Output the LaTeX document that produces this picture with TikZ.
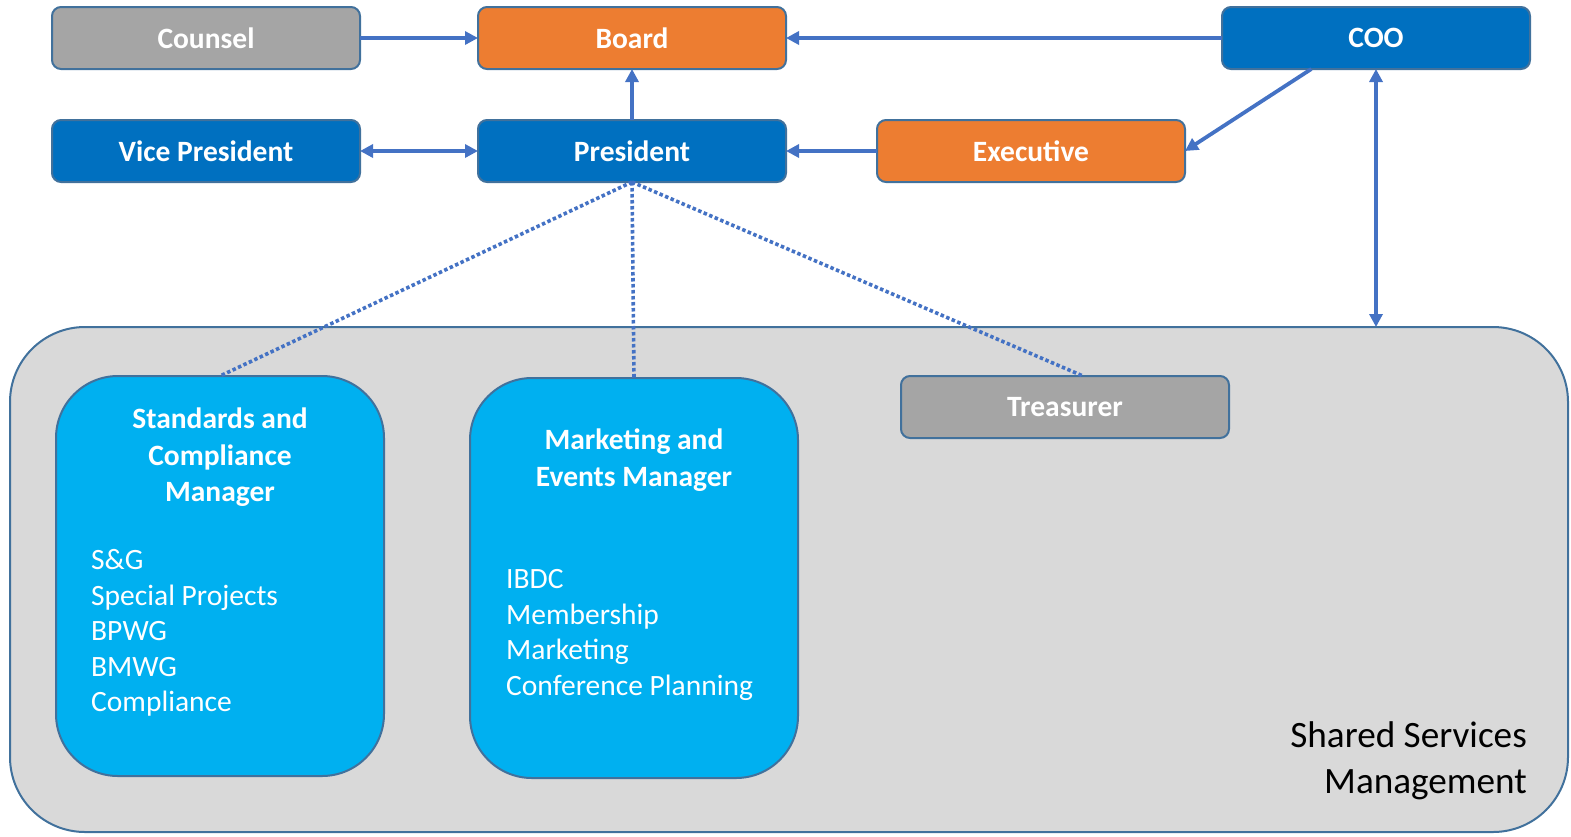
\documentclass[tikz,border=0pt]{standalone}
\usepackage{fontspec}
\setmainfont{Carlito}
\usetikzlibrary{arrows.meta,calc}
\definecolor{borderc}{HTML}{41719C}
\definecolor{arrowc}{HTML}{4472C4}
\definecolor{orangec}{HTML}{ED7D31}
\definecolor{bluec}{HTML}{0070C0}
\definecolor{grayc}{HTML}{A5A5A5}
\definecolor{cyanc}{HTML}{00B0F0}
\definecolor{panelc}{HTML}{D9D9D9}
\tikzset{
  rolebox/.style={draw=borderc, line width=2pt, rounded corners=9pt, minimum width=308pt, minimum height=62pt, inner sep=0pt, outer sep=0pt, text=white, font=\fontsize{29.5}{34}\selectfont\bfseries},
  mgrbox/.style={draw=borderc, line width=2pt, rounded corners=62pt, minimum width=328pt, minimum height=400pt, inner sep=0pt, outer sep=0pt, fill=cyanc},
  hdr/.style={text=white, align=center, font=\fontsize{29.5}{36.5}\selectfont\bfseries, inner sep=0pt},
  lst/.style={text=white, align=left, font=\fontsize{29.5}{35.5}\selectfont, inner sep=0pt},
  arr/.style={draw=arrowc, line width=3.8pt, -{Triangle[length=13pt,width=13pt]}},
  darr/.style={draw=arrowc, line width=3.8pt, {Triangle[length=13pt,width=13pt]}-{Triangle[length=13pt,width=13pt]}},
  dotl/.style={draw=arrowc, line width=3.6pt, dash pattern=on 3.5pt off 2.5pt}
}
\begin{document}
\begin{tikzpicture}[x=1pt,y=-1pt]
\useasboundingbox (0,0) rectangle (1571,836);
% container
\node[draw=borderc, line width=2pt, fill=panelc, rounded corners=75pt, minimum width=1558pt, minimum height=505pt, inner sep=0pt, outer sep=0pt] (ssm) at (789,579.5) {};
\node[anchor=east, align=right, inner sep=0pt, font=\fontsize{37.2}{46}\selectfont] (ssmlabel) at (1527,761) {Shared Services\\Management};
% top boxes
\node[rolebox, fill=grayc] (counsel) at (206,38) {Counsel};
\node[rolebox, fill=orangec] (board) at (632,38) {Board};
\node[rolebox, fill=bluec] (coo) at (1376,38) {COO};
\node[rolebox, fill=bluec] (vp) at (206,151) {Vice President};
\node[rolebox, fill=bluec] (president) at (632,151) {President};
\node[rolebox, fill=orangec] (executive) at (1031,151) {Executive};
\node[rolebox, fill=grayc, minimum width=328pt] (treasurer) at (1065,407) {Treasurer};
% manager boxes
\node[mgrbox] (standards) at (220,576) {};
\node[mgrbox] (marketing) at (634,578) {};
\node[hdr] (stdhdr) at (220,457.5) {Standards and\\Compliance\\Manager};
\node[lst, anchor=west] (stdlist) at (91,633) {S\&G\\Special Projects\\BPWG\\BMWG\\Compliance};
\node[hdr] (mkthdr) at (634,460) {Marketing and\\Events Manager};
\node[lst, anchor=west] (mktlist) at (506,635) {IBDC\\Membership\\Marketing\\Conference Planning};
% arrows
\draw[arr] (counsel) -- (board);
\draw[arr] (coo) -- (board);
\draw[arr] (president) -- (board);
\draw[darr] (vp) -- (president);
\draw[arr] (executive) -- (president);
\coordinate (coostart) at ($(coo.south west)!0.29!(coo.south east)$);
\draw[arr] (coostart) -- (executive.east);
\draw[darr] (coo.south) -- (coo.south |- ssm.north);
% dotted
\draw[dotl] (president.south) -- (standards.north);
\draw[dotl] (president.south) -- (marketing.north);
\coordinate (treasend) at ($(treasurer.north)+(18,0)$);
\draw[dotl] (president.south) -- (treasend);
\end{tikzpicture}
\end{document}
